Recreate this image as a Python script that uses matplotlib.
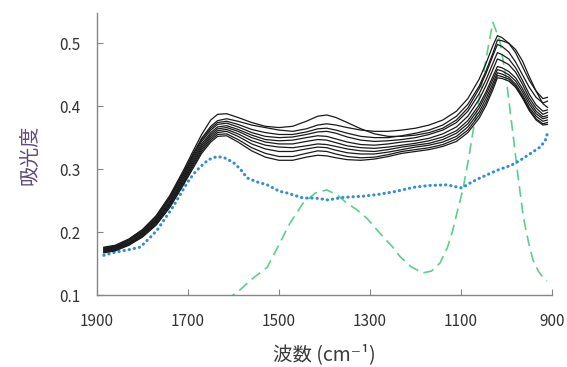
import matplotlib
matplotlib.use("Agg")
import matplotlib.pyplot as plt

# wavenumber grid shared by the sample spectra (cm-1)
wn = [1885, 1860, 1830, 1800, 1770, 1740, 1710, 1690, 1670, 1650, 1635, 1615, 1590,
      1560, 1530, 1500, 1470, 1440, 1415, 1395, 1375, 1350, 1320, 1290, 1260, 1230,
      1200, 1170, 1140, 1110, 1085, 1060, 1045, 1030, 1020, 1010, 995, 980, 965, 950,
      935, 920, 910]

spectra = [
    [0.176, 0.179, 0.189, 0.204, 0.226, 0.258, 0.298, 0.327, 0.355, 0.378, 0.387, 0.388, 0.382,
     0.374, 0.368, 0.366, 0.368, 0.376, 0.384, 0.386, 0.382, 0.374, 0.364, 0.356, 0.352, 0.352,
     0.354, 0.358, 0.365, 0.378, 0.397, 0.428, 0.452, 0.480, 0.498, 0.495, 0.486, 0.470, 0.450, 0.430,
     0.414, 0.405, 0.408],
    [0.175, 0.178, 0.188, 0.203, 0.225, 0.256, 0.295, 0.323, 0.349, 0.368, 0.377, 0.380, 0.376,
     0.370, 0.366, 0.362, 0.360, 0.364, 0.370, 0.372, 0.370, 0.366, 0.362, 0.360, 0.360, 0.362,
     0.365, 0.370, 0.378, 0.392, 0.412, 0.443, 0.468, 0.496, 0.512, 0.509, 0.500, 0.485, 0.463, 0.441,
     0.424, 0.412, 0.414],
    [0.174, 0.177, 0.187, 0.201, 0.223, 0.254, 0.293, 0.321, 0.347, 0.365, 0.374, 0.376, 0.371,
     0.363, 0.358, 0.355, 0.355, 0.359, 0.364, 0.365, 0.362, 0.357, 0.352, 0.350, 0.350, 0.353,
     0.357, 0.362, 0.370, 0.384, 0.403, 0.432, 0.456, 0.484, 0.505, 0.504, 0.500, 0.490, 0.472, 0.447,
     0.424, 0.404, 0.398],
    [0.173, 0.176, 0.186, 0.200, 0.221, 0.252, 0.290, 0.318, 0.344, 0.362, 0.371, 0.373, 0.367,
     0.358, 0.352, 0.350, 0.351, 0.355, 0.359, 0.360, 0.357, 0.351, 0.346, 0.344, 0.345, 0.347,
     0.350, 0.355, 0.362, 0.374, 0.392, 0.420, 0.442, 0.468, 0.485, 0.482, 0.475, 0.461, 0.441, 0.419,
     0.402, 0.392, 0.394],
    [0.172, 0.175, 0.184, 0.198, 0.219, 0.249, 0.287, 0.315, 0.340, 0.358, 0.367, 0.369, 0.363,
     0.354, 0.347, 0.345, 0.346, 0.350, 0.353, 0.352, 0.348, 0.343, 0.339, 0.338, 0.340, 0.343,
     0.345, 0.349, 0.356, 0.367, 0.384, 0.411, 0.433, 0.458, 0.475, 0.472, 0.466, 0.454, 0.435, 0.413,
     0.397, 0.387, 0.390],
    [0.171, 0.174, 0.183, 0.197, 0.218, 0.247, 0.285, 0.312, 0.337, 0.355, 0.364, 0.366, 0.360,
     0.350, 0.343, 0.340, 0.340, 0.344, 0.347, 0.346, 0.342, 0.337, 0.334, 0.333, 0.335, 0.338,
     0.341, 0.345, 0.351, 0.361, 0.377, 0.402, 0.423, 0.447, 0.463, 0.461, 0.455, 0.445, 0.428, 0.408,
     0.392, 0.383, 0.385],
    [0.170, 0.173, 0.182, 0.196, 0.216, 0.245, 0.282, 0.309, 0.334, 0.352, 0.361, 0.363, 0.356,
     0.345, 0.338, 0.335, 0.334, 0.337, 0.340, 0.339, 0.336, 0.332, 0.329, 0.328, 0.331, 0.335,
     0.338, 0.341, 0.347, 0.357, 0.372, 0.397, 0.418, 0.442, 0.458, 0.456, 0.450, 0.440, 0.423, 0.403,
     0.388, 0.380, 0.382],
    [0.169, 0.172, 0.181, 0.194, 0.214, 0.243, 0.280, 0.306, 0.331, 0.349, 0.358, 0.360, 0.352,
     0.340, 0.332, 0.328, 0.328, 0.332, 0.335, 0.334, 0.330, 0.326, 0.324, 0.324, 0.327, 0.331,
     0.335, 0.338, 0.343, 0.352, 0.367, 0.391, 0.412, 0.436, 0.453, 0.451, 0.446, 0.435, 0.418, 0.398,
     0.384, 0.376, 0.378],
    [0.168, 0.171, 0.180, 0.193, 0.212, 0.241, 0.277, 0.303, 0.328, 0.346, 0.355, 0.356, 0.347,
     0.334, 0.325, 0.320, 0.320, 0.325, 0.329, 0.328, 0.324, 0.320, 0.318, 0.319, 0.323, 0.328,
     0.331, 0.334, 0.339, 0.348, 0.362, 0.386, 0.406, 0.431, 0.449, 0.447, 0.443, 0.432, 0.415, 0.395,
     0.380, 0.372, 0.374],
    [0.167, 0.170, 0.179, 0.192, 0.211, 0.239, 0.275, 0.300, 0.325, 0.343, 0.352, 0.353, 0.343,
     0.329, 0.319, 0.314, 0.314, 0.319, 0.322, 0.321, 0.318, 0.315, 0.314, 0.316, 0.320, 0.325,
     0.328, 0.331, 0.336, 0.344, 0.358, 0.381, 0.401, 0.426, 0.445, 0.444, 0.440, 0.430, 0.413, 0.393,
     0.378, 0.370, 0.371],
]

# dotted blue reference spectrum
ref_wn = [1885, 1860, 1830, 1805, 1785, 1768, 1750, 1733, 1715, 1702, 1688, 1674, 1655, 1636,
          1620, 1601, 1585, 1570, 1550, 1526, 1500, 1482, 1447, 1420, 1392, 1360, 1315, 1280,
          1240, 1205, 1170, 1131, 1098, 1075, 1058, 1021, 990, 970, 945, 926, 915, 909]
ref_abs = [0.163, 0.168, 0.172, 0.176, 0.190, 0.203, 0.222, 0.240, 0.262, 0.278, 0.292, 0.303,
           0.315, 0.320, 0.318, 0.311, 0.300, 0.286, 0.280, 0.275, 0.265, 0.262, 0.254, 0.254,
           0.251, 0.255, 0.257, 0.260, 0.265, 0.271, 0.274, 0.275, 0.270, 0.280, 0.286, 0.298,
           0.306, 0.314, 0.326, 0.335, 0.345, 0.359]

# dashed green component
comp_wn = [1615, 1601, 1586, 1560, 1526, 1500, 1476, 1447, 1420, 1395, 1370, 1351, 1330, 1307,
           1278, 1250, 1234, 1210, 1184, 1165, 1146, 1130, 1118, 1109, 1096, 1085, 1073, 1058,
           1045, 1030, 1015, 1000, 986, 975, 963, 952, 942, 930, 920, 911]
comp_abs = [0.090, 0.100, 0.108, 0.125, 0.144, 0.180, 0.214, 0.246, 0.262, 0.267, 0.258, 0.246,
            0.236, 0.222, 0.198, 0.176, 0.161, 0.145, 0.135, 0.138, 0.151, 0.175, 0.203, 0.230,
            0.267, 0.310, 0.362, 0.420, 0.475, 0.533, 0.505, 0.440, 0.357, 0.290, 0.224, 0.185,
            0.156, 0.138, 0.128, 0.122]

x_ticks = [1900, 1700, 1500, 1300, 1100, 900]
y_ticks = [0.1, 0.2, 0.3, 0.4, 0.5]

plt.rcParams["font.family"] = ["Noto Sans CJK JP", "DejaVu Sans"]

fig = plt.figure(figsize=(5.67, 3.67), dpi=100)
ax = fig.add_axes([97 / 567, 1 - 295 / 367, 455 / 567, 282 / 367])

ax.plot(comp_wn, comp_abs, color="#5ccf8c", lw=1.2, ls=(0, (6.5, 3.5)))
ax.plot(ref_wn, ref_abs, color="#2f8ddc", lw=2.2, ls=(0, (0.1, 1.6)),
        dash_capstyle="round")
for s in spectra:
    ax.plot(wn, s, color="#1a1a1a", lw=0.9)

ax.set_xlim(1900, 900)
ax.set_ylim(0.1, 0.548)
ax.set_xticks(x_ticks)
ax.set_yticks(y_ticks)
ax.set_yticklabels([f"{v:.1f}" for v in y_ticks])

for side in ["top", "right"]:
    ax.spines[side].set_visible(False)
for side in ["left", "bottom"]:
    ax.spines[side].set_color("#868686")
    ax.spines[side].set_linewidth(1.0)
ax.tick_params(axis="both", direction="in", length=4, color="#868686",
               labelsize=11, labelcolor="#333333")
ax.tick_params(axis="x", pad=13)
ax.tick_params(axis="y", pad=12)

fig.text(30 / 567, 1 - 155 / 367, "吸光度", rotation=90, ha="center", va="center",
         fontsize=14.5, color="#604a7b")
fig.text(324 / 567, 1 - 355 / 367, "波数 (cm⁻¹)", ha="center", va="center",
         fontsize=14, color="#3a3a3a")

fig.savefig("out.png", dpi=100)
